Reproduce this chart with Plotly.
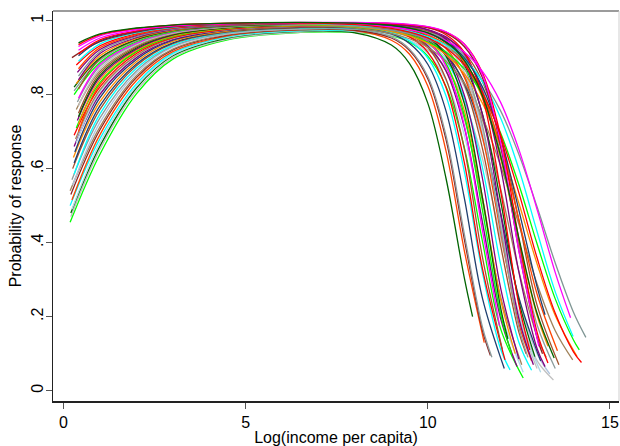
import plotly.graph_objects as go

# Predicted probability of response by log income, one curve per group.
# Each curve is given by knot values; the spline joins them.

START_X = [0.18, 0.20, 0.20, 0.23, 0.18, 0.23, 0.20, 0.18, 0.25, 0.23,
           0.29, 0.25, 0.29, 0.27, 0.31, 0.29, 0.35, 0.33, 0.29, 0.41,
           0.35, 0.41, 0.38, 0.41, 0.41, 0.35, 0.41, 0.38, 0.41, 0.29,
           0.29, 0.41, 0.29, 0.35, 0.41, 0.41, 0.38, 0.41, 0.35, 0.41,
           0.23, 0.41, 0.41, 0.41, 0.41, 0.41, 0.41]
START_Y = [0.455, 0.47, 0.48, 0.49, 0.50, 0.515, 0.53, 0.54, 0.555, 0.57,
           0.585, 0.60, 0.615, 0.63, 0.645, 0.66, 0.67, 0.68, 0.69, 0.70,
           0.71, 0.72, 0.73, 0.74, 0.75, 0.76, 0.77, 0.78, 0.79, 0.80,
           0.81, 0.815, 0.82, 0.83, 0.84, 0.85, 0.86, 0.87, 0.88, 0.89,
           0.90, 0.905, 0.91, 0.92, 0.93, 0.935, 0.94]

RISE_X = [1, 2, 3, 4.5, 6.5]
RISE_Y = [
    [.639, .802, .896, .948, .968], [.652, .810, .900, .950, .969],
    [.661, .818, .905, .953, .971], [.670, .823, .908, .955, .972],
    [.681, .829, .912, .957, .973], [.692, .838, .916, .959, .975],
    [.705, .846, .921, .961, .976], [.713, .851, .923, .963, .977],
    [.725, .858, .928, .964, .978], [.737, .864, .931, .966, .979],
    [.748, .871, .934, .968, .980], [.760, .878, .938, .969, .981],
    [.770, .883, .940, .971, .982], [.781, .889, .944, .972, .983],
    [.792, .895, .947, .974, .984], [.801, .900, .949, .975, .984],
    [.808, .905, .952, .976, .985], [.813, .906, .953, .976, .985],
    [.821, .911, .954, .977, .986], [.828, .915, .956, .979, .987],
    [.833, .917, .957, .979, .987], [.840, .920, .959, .980, .987],
    [.847, .923, .961, .981, .988], [.852, .926, .962, .981, .988],
    [.858, .929, .964, .982, .988], [.864, .932, .965, .983, .988],
    [.870, .935, .966, .983, .989], [.877, .938, .968, .984, .990],
    [.882, .940, .969, .984, .990], [.887, .943, .970, .984, .989],
    [.893, .946, .972, .985, .991], [.897, .948, .973, .986, .991],
    [.899, .949, .973, .986, .991], [.905, .952, .974, .987, .990],
    [.911, .954, .976, .987, .992], [.916, .957, .977, .988, .991],
    [.922, .960, .979, .989, .993], [.927, .962, .980, .989, .993],
    [.932, .965, .981, .990, .993], [.937, .967, .982, .990, .993],
    [.943, .969, .983, .991, .994], [.945, .971, .984, .991, .994],
    [.948, .972, .985, .991, .994], [.953, .975, .986, .992, .994],
    [.959, .977, .987, .992, .995], [.962, .979, .988, .993, .994],
    [.964, .980, .988, .993, .995],
]

FALL_X = [8, 9, 9.5, 10, 10.5, 11, 11.5, 12, 12.5, 13, 13.5, 14]
FALL_Y = [
    [.968, .959, .942, .904, .822, .658, .404, .167],
    [.969, .960, .946, .921, .872, .782, .627, .413, .209, .081],
    [.967, .934, .884, .777, .574, .306],
    [.972, .963, .946, .911, .839, .692, .458, .212],
    [.973, .969, .959, .937, .891, .791, .603, .341, .131],
    [.973, .947, .909, .823, .648, .380],
    [.974, .953, .919, .843, .679, .411, .163],
    [.977, .969, .956, .927, .865, .737, .512, .253],
    [.978, .970, .959, .939, .898, .822, .681, .470, .250, .100],
    [.977, .956, .923, .849, .690, .425, .172],
    [.979, .966, .945, .899, .797, .594, .319, .112],
    [.981, .977, .969, .951, .912, .828, .655, .392, .158],
    [.980, .964, .938, .882, .756, .522, .250],
    [.983, .977, .965, .940, .884, .758, .522, .246],
    [.983, .975, .965, .946, .907, .832, .692, .480, .252],
    [.984, .976, .962, .932, .864, .713, .455, .195],
    [.985, .981, .973, .957, .923, .849, .696, .450, .203],
    [.984, .976, .966, .949, .915, .851, .733, .545, .323, .147],
    [.985, .974, .956, .915, .819, .618, .330],
    [.987, .982, .975, .959, .925, .848, .686, .428, .181],
    [.987, .980, .969, .944, .884, .745, .488, .206],
    [.987, .981, .973, .960, .934, .884, .791, .627, .406, .203],
    [.988, .983, .975, .955, .910, .799, .574, .277],
    [.988, .985, .979, .967, .940, .880, .748, .512, .242],
    [.988, .978, .963, .928, .842, .655, .361],
    [.980, .965, .951, .928, .891, .832, .739, .608, .450, .289, .162],
    [.989, .985, .978, .963, .932, .861, .707, .453, .198],
    [.990, .986, .980, .970, .948, .905, .813, .641, .397, .178],
    [.990, .983, .971, .944, .877, .717, .433],
    [.983, .971, .960, .942, .915, .870, .801, .696, .557, .397, .248, .137],
    [.991, .988, .982, .970, .943, .874, .717, .438, .171],
    [.991, .987, .981, .972, .953, .914, .835, .686, .460, .231],
    [.991, .985, .977, .956, .904, .777, .522, .224],
    [.984, .971, .959, .939, .908, .857, .777, .661, .507, .343, .203],
    [.992, .989, .985, .976, .956, .911, .808, .603, .321, .114],
    [.985, .974, .965, .950, .928, .892, .838, .756, .639, .497, .345, .212],
    [.993, .990, .985, .975, .950, .890, .746, .478, .195],
    [.990, .983, .975, .961, .936, .889, .804, .659, .463, .261],
    [.993, .992, .988, .981, .962, .915, .794, .540, .233],
    [.988, .979, .971, .957, .934, .897, .835, .737, .599, .430, .267],
    [.994, .992, .988, .981, .966, .930, .846, .661, .380, .143],
    [.992, .985, .978, .966, .943, .900, .821, .684, .488, .281],
    [.994, .992, .989, .983, .969, .937, .859, .688, .409, .158],
    [.990, .983, .976, .965, .946, .915, .863, .779, .652, .490, .319],
    [.995, .993, .990, .984, .970, .937, .854, .670, .378],
    [.989, .979, .969, .953, .926, .881, .805, .690, .535, .359, .209, .105],
    [.993, .987, .980, .967, .942, .893, .797, .634, .413, .209],
]

END_X = [12.62, 13.45, 11.23, 12.62, 12.85, 11.55, 11.72, 12.58, 13.35, 11.76,
         12.26, 12.70, 12.10, 12.40, 13.10, 12.45, 13.10, 13.25, 12.12, 12.85,
         12.30, 13.30, 12.50, 12.94, 12.05, 13.98, 13.00, 13.50, 11.97, 14.16,
         12.75, 13.60, 12.20, 14.10, 13.22, 14.34, 12.90, 13.56, 12.80, 13.99,
         13.15, 13.22, 13.30, 13.92, 13.05, 14.22, 13.47]
END_Y = [0.034, 0.029, 0.200, 0.050, 0.055, 0.130, 0.095, 0.070, 0.045, 0.090,
         0.056, 0.100, 0.060, 0.100, 0.080, 0.065, 0.050, 0.090, 0.083, 0.080,
         0.100, 0.120, 0.085, 0.092, 0.110, 0.083, 0.060, 0.060, 0.175, 0.110,
         0.090, 0.070, 0.140, 0.092, 0.065, 0.144, 0.070, 0.108, 0.110, 0.146,
         0.100, 0.205, 0.075, 0.197, 0.120, 0.076, 0.088]

COLORS = ["#00ff00", "#c0c0c0", "#006400", "#add8e6", "#00ffff", "#ff4500",
          "#8b2323", "#a0825a", "#b0c4de", "#8c9c9c", "#00ffff", "#a0522d",
          "#1f3f6f", "#ff8c00", "#1f3f6f", "#800080", "#add8e6", "#a0825a",
          "#ff0000", "#ff4500", "#00ff00", "#ff8c00", "#800080", "#006400",
          "#a0522d", "#a0825a", "#c0c0c0", "#8c9c9c", "#ff00ff", "#00ff00",
          "#8c9c9c", "#a0522d", "#006400", "#ff8c00", "#800080", "#7f9694",
          "#800080", "#ff4500", "#ff0000", "#00ffff", "#8b2323", "#1f3f6f",
          "#ff0000", "#ff00ff", "#ff00ff", "#ff0000", "#006400"]

X_TICKS = [0, 5, 10, 15]
Y_TICKS = [0, 0.2, 0.4, 0.6, 0.8, 1]
Y_TICK_TEXT = ["0", ".2", ".4", ".6", ".8", "1"]

fig = go.Figure()
for i in range(len(START_X)):
    fall = [(fx, fy) for fx, fy in zip(FALL_X, FALL_Y[i])]
    xs = [START_X[i]] + RISE_X + [p[0] for p in fall] + [END_X[i]]
    ys = [START_Y[i]] + RISE_Y[i] + [p[1] for p in fall] + [END_Y[i]]
    fig.add_trace(go.Scatter(
        x=xs, y=ys, mode="lines",
        line=dict(color=COLORS[i], width=1.3, shape="spline", smoothing=1.0),
        showlegend=False, hoverinfo="skip",
    ))

font = dict(family="Liberation Sans, Arial, sans-serif", size=16, color="#000")

fig.update_layout(
    width=620, height=446,
    margin=dict(l=53, r=1, t=11, b=45),
    paper_bgcolor="white", plot_bgcolor="white",
    font=font,
    xaxis=dict(
        range=[-0.29, 15.25], tickvals=X_TICKS, ticks="outside", ticklen=6,
        tickcolor="#555", tickwidth=1, showgrid=False, zeroline=False,
        showline=True, linecolor="#222", linewidth=1.5,
        title=dict(text="Log(income per capita)", font=font, standoff=4),
        tickfont=font,
    ),
    yaxis=dict(
        range=[-0.028, 1.026], tickvals=Y_TICKS, ticktext=Y_TICK_TEXT,
        tickangle=-90, ticks="outside", ticklen=6, tickcolor="#555",
        tickwidth=1, showgrid=False, zeroline=False,
        showline=True, linecolor="#222", linewidth=1,
        ticklabelstandoff=-3,
        title=dict(text="Probability of response", font=font, standoff=2),
        tickfont=font,
    ),
    shapes=[
        dict(type="line", xref="paper", yref="paper", x0=0, x1=1, y0=1, y1=1,
             line=dict(color="#7a7a7a", width=1.5)),
        dict(type="line", xref="paper", yref="paper", x0=1, x1=1, y0=0, y1=1,
             line=dict(color="#cfcfcf", width=1)),
    ],
)

fig.write_html("out.html")
